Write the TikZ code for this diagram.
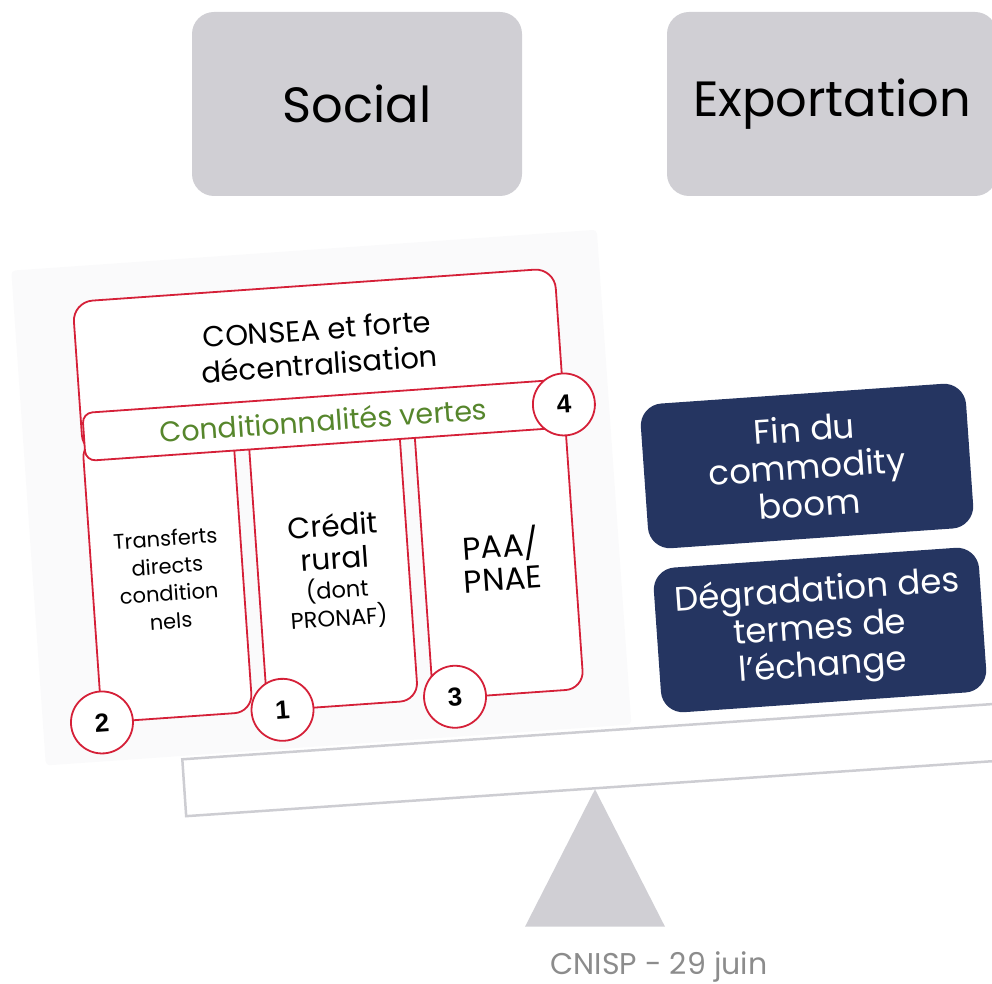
\documentclass[tikz,border=0pt]{standalone}
\usepackage{fontspec}
\setmainfont{Poppins}
\newfontfamily\numfont{Liberation Sans}
\definecolor{boxgray}{RGB}{208,207,212}
\definecolor{panelgray}{RGB}{250,250,251}
\definecolor{myred}{RGB}{213,32,56}
\definecolor{mygreen}{RGB}{86,134,44}
\definecolor{navy}{RGB}{37,53,97}
\definecolor{beamgray}{RGB}{205,205,210}
\definecolor{cnispgray}{RGB}{140,140,140}
\begin{document}
\begin{tikzpicture}[x=1pt,y=1pt,
  graybox/.style={fill=boxgray, rounded corners=22pt, minimum width=330pt, minimum height=184pt, inner sep=0pt, font=\fontsize{49.5}{52}\selectfont},
  navybox/.style={fill=navy, rounded corners=22pt, minimum width=326pt, minimum height=145pt, inner sep=0pt, rotate=4, text=white, align=center, font=\fontsize{34}{37.5}\selectfont},
  redline/.style={draw=myred, line width=1.8pt, fill=white},
  numc/.style={circle, draw=myred, line width=1.8pt, fill=white, minimum size=62pt, inner sep=0pt, font=\numfont\bfseries\fontsize{26}{26}\selectfont},
  lbl/.style={align=center, inner sep=0pt}
]
\useasboundingbox (0,0) rectangle (992,983);
\clip (0,0) rectangle (992,983);

% top boxes
\node[graybox] (social) at (357,879) {Social};
\node[graybox] (export) at (832,879) {Exportation};

% left panel group
\begin{scope}[rotate around={4:(330,483)}, transform shape]
  \fill[panelgray, rounded corners=4pt] (28,238) rectangle (615,734);
  \draw[redline, rounded corners=20pt] (87,545) rectangle (570,698.5);
  \draw[redline, rounded corners=18pt] (87,277) rectangle (238,560);
  \draw[redline, rounded corners=18pt] (253,277) rectangle (404,560);
  \draw[redline, rounded corners=18pt] (419,277) rectangle (570,560);
  \draw[redline, rounded corners=10pt] (89,539) rectangle (570,587);
  \node[lbl, font=\fontsize{29}{35}\selectfont] (consea) at (329,637) {CONSEA et forte\\décentralisation};
  \node[lbl, text=mygreen, font=\fontsize{28.5}{30}\selectfont] (cond) at (329,563) {Conditionnalités vertes};
  \node[lbl, font=\fontsize{21}{27.5}\selectfont] (transf) at (163,415) {Transferts\\directs\\condition\\nels};
  \node[lbl, font=\fontsize{29.5}{33}\selectfont] (credit) at (331,411) {Crédit\\rural\\[-4pt]{\fontsize{22.5}{27}\selectfont (dont}\\[-5pt]{\fontsize{22.5}{27}\selectfont PRONAF)}};
  \node[lbl, font=\fontsize{31.5}{33}\selectfont] (paa) at (497,412) {PAA/\\PNAE};
  \node[numc] (n2) at (87,277) {2};
  \node[numc] (n1) at (268,277) {1};
  \node[numc] (n3) at (441,278) {3};
  \node[numc] (n4) at (570,562) {4};
\end{scope}

% beam
\begin{scope}[shift={(182.3,223.7)}, rotate=3.9]
  \draw[beamgray, line width=2.5pt, fill=white] (0,0) rectangle (900,-57);
\end{scope}

% fulcrum
\fill[boxgray] (595,193.7) -- (665,56.3) -- (525,56.3) -- cycle;

% navy boxes
\node[navybox] (fin) at (807,517) {Fin du\\commodity\\boom};
\node[navybox] (degr) at (820,353) {Dégradation des\\termes de\\l’échange};

% footer
\node[text=cnispgray, font=\fontsize{30}{30}\selectfont, inner sep=0pt] (cnisp) at (659,16) {CNISP - 29 juin};
\end{tikzpicture}
\end{document}
